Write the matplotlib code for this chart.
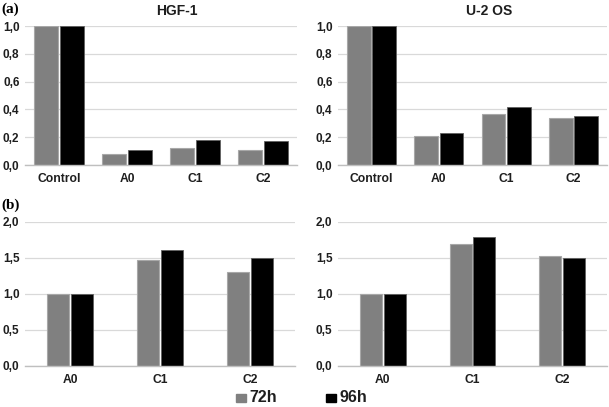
import matplotlib
matplotlib.use("Agg")
import matplotlib.pyplot as plt
import numpy as np
from matplotlib.font_manager import FontProperties

cats_a = ["Control", "A0", "C1", "C2"]
hgf_72 = [1.0, 0.08, 0.12, 0.11]
hgf_96 = [1.0, 0.11, 0.18, 0.17]
u2os_72 = [1.0, 0.21, 0.37, 0.34]
u2os_96 = [1.0, 0.23, 0.42, 0.35]

cats_b = ["A0", "C1", "C2"]
hgf_b_72 = [1.0, 1.47, 1.31]
hgf_b_96 = [1.0, 1.61, 1.50]
u2os_b_72 = [1.0, 1.69, 1.53]
u2os_b_96 = [1.0, 1.79, 1.50]

titles = ["HGF-1", "U-2 OS"]
series_names = ["72h", "96h"]

plt.rcParams["font.family"] = ["Liberation Sans", "DejaVu Sans"]
plt.rcParams["font.weight"] = "bold"

GRAY = "#808080"
BLACK = "#000000"
TXT = "#1e1e1e"

fig = plt.figure(figsize=(6.09, 4.07), dpi=100)
W, H = 609, 407

def ax_at(x0, x1, y0, y1):
    return fig.add_axes([x0 / W, 1 - y1 / H, (x1 - x0) / W, (y1 - y0) / H])

def draw(ax, cats, v72, v96, ylim, ticks, width):
    x = np.arange(len(cats))
    ax.bar(x - width / 2 - 0.01, v72, width, color=GRAY, edgecolor="#a8a8a8", linewidth=0.8, zorder=3)
    ax.bar(x + width / 2 + 0.01, v96, width, color=BLACK, edgecolor="#606060", linewidth=0.6, zorder=3)
    ax.set_xlim(-0.5, len(cats) - 0.5)
    ax.set_ylim(*ylim)
    ax.set_yticks(ticks, labels=[f"{t:.1f}".replace(".", ",") for t in ticks],
                  fontweight="bold", fontsize=8.5, color=TXT)
    ax.set_xticks(x, labels=cats, fontweight="bold", fontsize=8.7, color=TXT)
    ax.grid(axis="y", color="#d9d9d9", linewidth=0.9, zorder=0)
    ax.set_axisbelow(True)
    for s in ["top", "right", "left"]:
        ax.spines[s].set_visible(False)
    ax.spines["bottom"].set_color("#bfbfbf")
    ax.spines["bottom"].set_linewidth(1.0)
    ax.spines["bottom"].set_zorder(4)
    ax.tick_params(axis="both", length=0)
    ax.tick_params(axis="x", pad=6)
    ax.tick_params(axis="y", pad=4)

ax1 = ax_at(25, 297, 26, 165)
draw(ax1, cats_a, hgf_72, hgf_96, (0, 1.0), np.arange(0, 1.01, 0.2), 0.355)
ax2 = ax_at(338, 607, 26, 165)
draw(ax2, cats_a, u2os_72, u2os_96, (0, 1.0), np.arange(0, 1.01, 0.2), 0.355)
ax3 = ax_at(25, 295, 222, 366)
draw(ax3, cats_b, hgf_b_72, hgf_b_96, (0, 2.0), np.arange(0, 2.01, 0.5), 0.245)
ax4 = ax_at(338, 607, 222, 366)
draw(ax4, cats_b, u2os_b_72, u2os_b_96, (0, 2.0), np.arange(0, 2.01, 0.5), 0.245)

fig.text(177 / W, 1 - 11 / H, titles[0], ha="center", va="center", fontsize=10, color=TXT)
fig.text(489 / W, 1 - 11 / H, titles[1], ha="center", va="center", fontsize=10, color=TXT)
serif = FontProperties(family="Liberation Serif", weight="bold", size=11)
fig.text(1 / W, 1 - 9 / H, "(a)", ha="left", va="center", fontproperties=serif)
fig.text(1 / W, 1 - 205 / H, "(b)", ha="left", va="center", fontproperties=serif)

# legend
for sx, col, name in [(236, GRAY, series_names[0]), (326, BLACK, series_names[1])]:
    fig.patches.append(plt.Rectangle((sx / W, 1 - 402 / H), 10 / W, 8.5 / H,
                                     transform=fig.transFigure, color=col, figure=fig))
    fig.text((sx + 13) / W, 1 - 398 / H, name, ha="left", va="center", fontsize=11.5,
             color=TXT)

fig.savefig("out.png", dpi=100)
